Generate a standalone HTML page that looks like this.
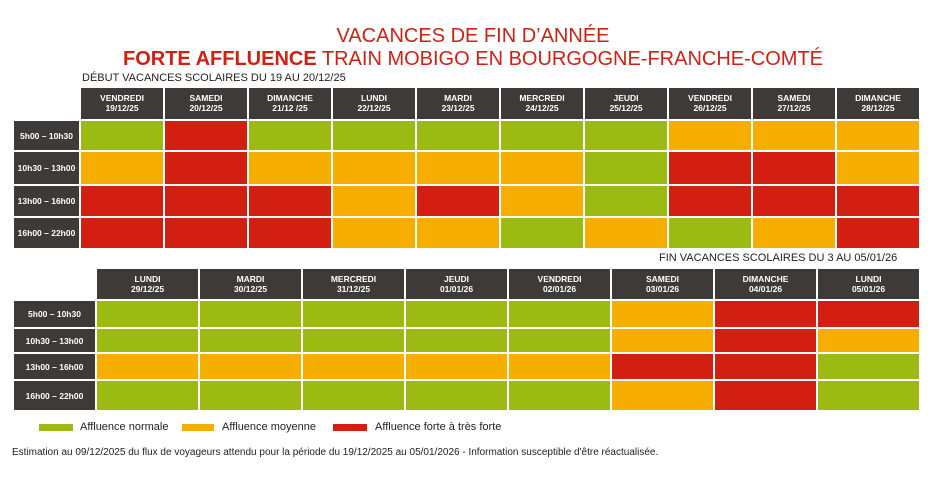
<!DOCTYPE html>
<html><head><meta charset="utf-8"><style>
body{margin:0;width:946px;height:487px;background:#fff;position:relative;overflow:hidden;font-family:"Liberation Sans",sans-serif}
div{position:absolute;box-sizing:border-box}
.h{background:#3d3a38;color:#fff;font-size:8.5px;text-align:center;line-height:10px;padding-top:5px;font-weight:bold}
.l{background:#3d3a38;color:#fff;font-size:8.5px;text-align:center;font-weight:bold;display:flex;align-items:center;justify-content:center}
.G{background:#9cbb12}.O{background:#f6ae00}.R{background:#d21f12}
.t{color:#222;font-size:11px;white-space:nowrap}
</style></head><body>
<div style="left:0;width:946px;top:24px;text-align:center;color:#d21f12;font-size:20px;line-height:24px">VACANCES DE FIN D’ANNÉE</div>
<div style="left:0;width:946px;top:46px;text-align:center;color:#d21f12;font-size:20px;line-height:26px"><b>FORTE AFFLUENCE</b> TRAIN MOBIGO EN BOURGOGNE-FRANCHE-COMTÉ</div>
<div class="t" style="left:82px;top:72px">DÉBUT VACANCES SCOLAIRES DU 19 AU 20/12/25</div>
<div class="t" style="left:659px;top:252px">FIN VACANCES SCOLAIRES DU 3 AU 05/01/26</div>

<div class="h" style="left:81px;top:88px;width:82px;height:31px">VENDREDI<br>19/12/25</div>
<div class="h" style="left:165px;top:88px;width:82px;height:31px">SAMEDI<br>20/12/25</div>
<div class="h" style="left:249px;top:88px;width:82px;height:31px">DIMANCHE<br>21/12 /25</div>
<div class="h" style="left:333px;top:88px;width:82px;height:31px">LUNDI<br>22/12/25</div>
<div class="h" style="left:417px;top:88px;width:82px;height:31px">MARDI<br>23/12/25</div>
<div class="h" style="left:501px;top:88px;width:82px;height:31px">MERCREDI<br>24/12/25</div>
<div class="h" style="left:585px;top:88px;width:82px;height:31px">JEUDI<br>25/12/25</div>
<div class="h" style="left:669px;top:88px;width:82px;height:31px">VENDREDI<br>26/12/25</div>
<div class="h" style="left:753px;top:88px;width:82px;height:31px">SAMEDI<br>27/12/25</div>
<div class="h" style="left:837px;top:88px;width:82px;height:31px">DIMANCHE<br>28/12/25</div>

<div class="l" style="left:14px;top:121px;width:65px;height:29px">5h00 – 10h30</div>
<div class="l" style="left:14px;top:152px;width:65px;height:32px">10h30 – 13h00</div>
<div class="l" style="left:14px;top:186px;width:65px;height:30px">13h00 – 16h00</div>
<div class="l" style="left:14px;top:218px;width:65px;height:30px">16h00 – 22h00</div>

<div class="G" style="left:81px;top:121px;width:82px;height:29px"></div>
<div class="R" style="left:165px;top:121px;width:82px;height:29px"></div>
<div class="G" style="left:249px;top:121px;width:82px;height:29px"></div>
<div class="G" style="left:333px;top:121px;width:82px;height:29px"></div>
<div class="G" style="left:417px;top:121px;width:82px;height:29px"></div>
<div class="G" style="left:501px;top:121px;width:82px;height:29px"></div>
<div class="G" style="left:585px;top:121px;width:82px;height:29px"></div>
<div class="O" style="left:669px;top:121px;width:82px;height:29px"></div>
<div class="O" style="left:753px;top:121px;width:82px;height:29px"></div>
<div class="O" style="left:837px;top:121px;width:82px;height:29px"></div>

<div class="O" style="left:81px;top:152px;width:82px;height:32px"></div>
<div class="R" style="left:165px;top:152px;width:82px;height:32px"></div>
<div class="O" style="left:249px;top:152px;width:82px;height:32px"></div>
<div class="O" style="left:333px;top:152px;width:82px;height:32px"></div>
<div class="O" style="left:417px;top:152px;width:82px;height:32px"></div>
<div class="O" style="left:501px;top:152px;width:82px;height:32px"></div>
<div class="G" style="left:585px;top:152px;width:82px;height:32px"></div>
<div class="R" style="left:669px;top:152px;width:82px;height:32px"></div>
<div class="R" style="left:753px;top:152px;width:82px;height:32px"></div>
<div class="O" style="left:837px;top:152px;width:82px;height:32px"></div>

<div class="R" style="left:81px;top:186px;width:82px;height:30px"></div>
<div class="R" style="left:165px;top:186px;width:82px;height:30px"></div>
<div class="R" style="left:249px;top:186px;width:82px;height:30px"></div>
<div class="O" style="left:333px;top:186px;width:82px;height:30px"></div>
<div class="R" style="left:417px;top:186px;width:82px;height:30px"></div>
<div class="O" style="left:501px;top:186px;width:82px;height:30px"></div>
<div class="G" style="left:585px;top:186px;width:82px;height:30px"></div>
<div class="R" style="left:669px;top:186px;width:82px;height:30px"></div>
<div class="R" style="left:753px;top:186px;width:82px;height:30px"></div>
<div class="R" style="left:837px;top:186px;width:82px;height:30px"></div>

<div class="R" style="left:81px;top:218px;width:82px;height:30px"></div>
<div class="R" style="left:165px;top:218px;width:82px;height:30px"></div>
<div class="R" style="left:249px;top:218px;width:82px;height:30px"></div>
<div class="O" style="left:333px;top:218px;width:82px;height:30px"></div>
<div class="O" style="left:417px;top:218px;width:82px;height:30px"></div>
<div class="G" style="left:501px;top:218px;width:82px;height:30px"></div>
<div class="O" style="left:585px;top:218px;width:82px;height:30px"></div>
<div class="G" style="left:669px;top:218px;width:82px;height:30px"></div>
<div class="O" style="left:753px;top:218px;width:82px;height:30px"></div>
<div class="R" style="left:837px;top:218px;width:82px;height:30px"></div>

<div class="h" style="left:97px;top:269px;width:101px;height:30px">LUNDI<br>29/12/25</div>
<div class="h" style="left:200px;top:269px;width:101px;height:30px">MARDI<br>30/12/25</div>
<div class="h" style="left:303px;top:269px;width:101px;height:30px">MERCREDI<br>31/12/25</div>
<div class="h" style="left:406px;top:269px;width:101px;height:30px">JEUDI<br>01/01/26</div>
<div class="h" style="left:509px;top:269px;width:101px;height:30px">VENDREDI<br>02/01/26</div>
<div class="h" style="left:612px;top:269px;width:101px;height:30px">SAMEDI<br>03/01/26</div>
<div class="h" style="left:715px;top:269px;width:101px;height:30px">DIMANCHE<br>04/01/26</div>
<div class="h" style="left:818px;top:269px;width:101px;height:30px">LUNDI<br>05/01/26</div>

<div class="l" style="left:14px;top:301px;width:81px;height:26px">5h00 – 10h30</div>
<div class="l" style="left:14px;top:329px;width:81px;height:23px">10h30 – 13h00</div>
<div class="l" style="left:14px;top:354px;width:81px;height:25px">13h00 – 16h00</div>
<div class="l" style="left:14px;top:381px;width:81px;height:29px">16h00 – 22h00</div>

<div class="G" style="left:97px;top:301px;width:101px;height:26px"></div>
<div class="G" style="left:200px;top:301px;width:101px;height:26px"></div>
<div class="G" style="left:303px;top:301px;width:101px;height:26px"></div>
<div class="G" style="left:406px;top:301px;width:101px;height:26px"></div>
<div class="G" style="left:509px;top:301px;width:101px;height:26px"></div>
<div class="O" style="left:612px;top:301px;width:101px;height:26px"></div>
<div class="R" style="left:715px;top:301px;width:101px;height:26px"></div>
<div class="R" style="left:818px;top:301px;width:101px;height:26px"></div>

<div class="G" style="left:97px;top:329px;width:101px;height:23px"></div>
<div class="G" style="left:200px;top:329px;width:101px;height:23px"></div>
<div class="G" style="left:303px;top:329px;width:101px;height:23px"></div>
<div class="G" style="left:406px;top:329px;width:101px;height:23px"></div>
<div class="G" style="left:509px;top:329px;width:101px;height:23px"></div>
<div class="O" style="left:612px;top:329px;width:101px;height:23px"></div>
<div class="R" style="left:715px;top:329px;width:101px;height:23px"></div>
<div class="O" style="left:818px;top:329px;width:101px;height:23px"></div>

<div class="O" style="left:97px;top:354px;width:101px;height:25px"></div>
<div class="O" style="left:200px;top:354px;width:101px;height:25px"></div>
<div class="O" style="left:303px;top:354px;width:101px;height:25px"></div>
<div class="O" style="left:406px;top:354px;width:101px;height:25px"></div>
<div class="O" style="left:509px;top:354px;width:101px;height:25px"></div>
<div class="R" style="left:612px;top:354px;width:101px;height:25px"></div>
<div class="R" style="left:715px;top:354px;width:101px;height:25px"></div>
<div class="G" style="left:818px;top:354px;width:101px;height:25px"></div>

<div class="G" style="left:97px;top:381px;width:101px;height:29px"></div>
<div class="G" style="left:200px;top:381px;width:101px;height:29px"></div>
<div class="G" style="left:303px;top:381px;width:101px;height:29px"></div>
<div class="G" style="left:406px;top:381px;width:101px;height:29px"></div>
<div class="G" style="left:509px;top:381px;width:101px;height:29px"></div>
<div class="O" style="left:612px;top:381px;width:101px;height:29px"></div>
<div class="R" style="left:715px;top:381px;width:101px;height:29px"></div>
<div class="G" style="left:818px;top:381px;width:101px;height:29px"></div>

<div class="G" style="left:39px;top:424px;width:34px;height:7px"></div>
<div class="t" style="left:80px;top:421px">Affluence normale</div>
<div class="O" style="left:182px;top:424px;width:32px;height:7px"></div>
<div class="t" style="left:222px;top:421px">Affluence moyenne</div>
<div class="R" style="left:333px;top:424px;width:34px;height:7px"></div>
<div class="t" style="left:375px;top:421px">Affluence forte à très forte</div>
<div class="t" style="left:12px;top:447px;font-size:10px">Estimation au 09/12/2025 du flux de voyageurs attendu pour la période du 19/12/2025 au 05/01/2026 - Information susceptible d'être réactualisée.</div>
</body></html>
